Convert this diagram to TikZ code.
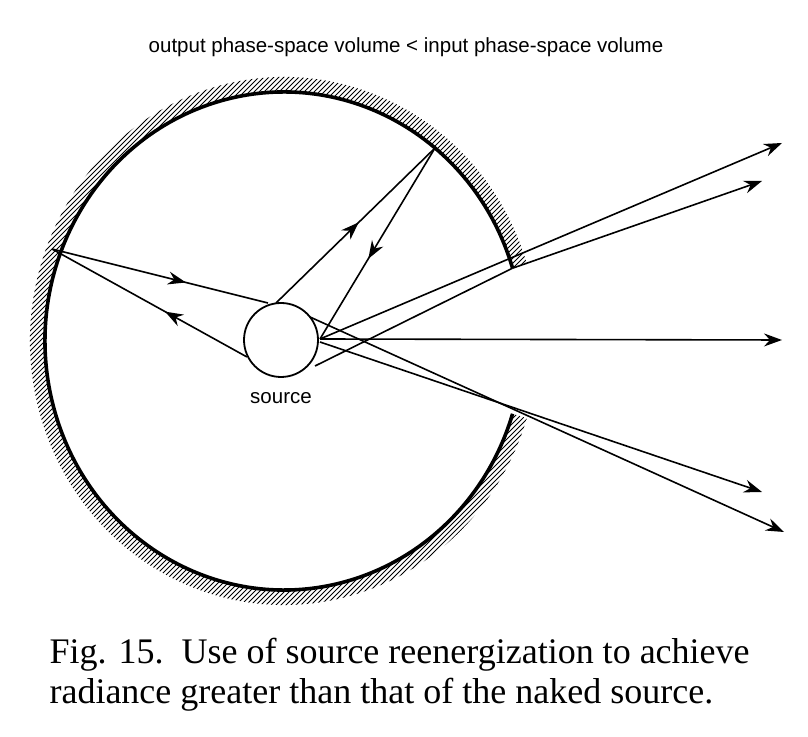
\documentclass[tikz,border=0pt]{standalone}
\usepackage{fontspec}
\setmainfont{Liberation Serif}
\newfontfamily\titlefont{Liberation Sans}
\usetikzlibrary{calc,arrows.meta,decorations.markings}

\begin{document}
\begin{tikzpicture}[x=1pt,y=1pt,
		ray/.style={line width=1.6pt,-{Stealth[length=18pt,width=13pt,inset=6pt]}},
		midray/.style={line width=1.6pt,postaction={decorate},decoration={markings,
			mark=at position #1 with {\arrow{Stealth[length=18pt,width=13pt,inset=6pt]}}}},
		wall/.style={line width=3.6pt},
		hatch/.style={line width=1pt}]
	\useasboundingbox (0,0) rectangle (808,736);
	% mirror
	\coordinate (C) at (284,395);
	\coordinate (U) at ($(C)+(17:239 and 249)$);
	\coordinate (D) at ($(C)+(343:239 and 249)$);
	\begin{scope}
		\clip (C) ++(17:254 and 264) arc[start angle=17,end angle=343,x radius=254,y radius=264]
			-- (D) arc[start angle=343,end angle=17,x radius=239,y radius=249] -- cycle;
		\foreach \i in {-800,-795,...,800}
			\draw[hatch] (\i,0) -- ++(800,800);
	\end{scope}
	\draw[wall] (U) arc[start angle=17,end angle=343,x radius=239,y radius=249];

	% source
	\node[circle,draw,line width=1.8pt,minimum size=74pt,inner sep=0pt] (src) at (281,396) {};
	\node[font=\titlefont\fontsize{20.5}{24}\selectfont] (srclabel) at (281,338) {source};

	% reflection points
	\coordinate (L) at (52,487);
	\coordinate (T) at (435,588);
	\coordinate (s1) at (268,433);
	\coordinate (s2) at (247,379);
	\coordinate (s3) at (276,433);
	\coordinate (s4) at (320,397);
	\coordinate (s5) at (315,370);
	\coordinate (s6) at (310,419);
	\coordinate (s7) at (320,394);

	\draw[midray=0.62] (L) -- (s1);
	\draw[midray=0.42] (s2) -- (L);
	\draw[midray=0.52] (s3) -- (T);
	\draw[midray=0.58] (T) -- (s4);

	% outgoing rays
	\coordinate (e1) at (782,593);
	\coordinate (e2) at (762,555);
	\coordinate (e3) at (782,396);
	\coordinate (e4) at (762,244);
	\coordinate (e5) at (784,204);
	\draw[ray] (s4) -- (e1);
	\draw[line width=1.6pt] (s5) -- (U);
	\draw[ray] (U) -- (e2);
	\draw[ray] (s4) -- (e3);
	\draw[ray] (s7) -- (e4);
	\draw[ray] (s6) -- (e5);

	% texts
	\node[font=\titlefont\fontsize{20.5}{24}\selectfont] (title) at (406,689) {output phase-space volume < input phase-space volume};
	\node[anchor=west,align=left,font=\fontsize{36}{40}\selectfont] (caption) at (46,61)
		{Fig. 15.\ \ Use of source reenergization to achieve\\radiance greater than that of the naked source.};
\end{tikzpicture}
\end{document}
